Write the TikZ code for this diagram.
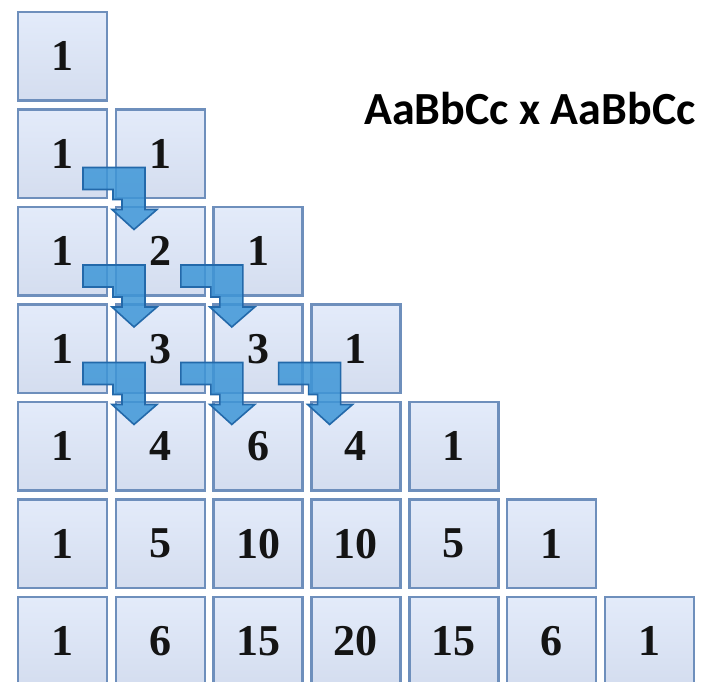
\documentclass[tikz,border=0pt]{standalone}
\usepackage{fontspec}
\usepackage{tikz}
\usetikzlibrary{positioning}
\newfontfamily\numfont{Liberation Serif}
\newfontfamily\headfont{Carlito}
\definecolor{cellfill}{RGB}{227,235,250}
\definecolor{cellfillb}{RGB}{212,221,239}
\definecolor{celledge}{RGB}{110,143,188}
\definecolor{turnfill}{RGB}{62,150,215}
\definecolor{turnedge}{RGB}{35,105,170}

\begin{document}
\begin{tikzpicture}[x=1pt, y=1pt,
  node distance=9pt and 8.8pt,
  cell/.style={draw=celledge, line width=2.6pt, top color=cellfill, bottom color=cellfillb, minimum width=89pt, minimum height=88.5pt,
    inner sep=0pt, outer sep=0pt, font=\numfont\bfseries\fontsize{44}{48}\selectfont, text=black!92},
  turn/.pic={\filldraw[fill=turnfill, fill opacity=0.85, draw=turnedge, line width=1.6pt]
    (-24,30.5) -- (38,30.5) -- (38,-11.5) -- (50,-11.5) -- (27,-31.5) -- (5,-11.5) -- (15,-11.5) -- (15,-1.5) -- (6,-1.5) -- (6,8.5) -- (-24,8.5) -- cycle;}]
  \fill[white] (0,0) rectangle (705,682);
  \useasboundingbox (0,0) rectangle (705,682);
  % Pascal triangle rows
  \node[cell] (p11) at (62.5,625.75) {1};
  \node[cell, below=of p11] (p21) {1}; \node[cell, right=of p21] (p22) {1};
  \node[cell, below=of p21] (p31) {1}; \node[cell, right=of p31] (p32) {2}; \node[cell, right=of p32] (p33) {1};
  \node[cell, below=of p31] (p41) {1}; \node[cell, right=of p41] (p42) {3}; \node[cell, right=of p42] (p43) {3};
  \node[cell, right=of p43] (p44) {1};
  \node[cell, below=of p41] (p51) {1}; \node[cell, right=of p51] (p52) {4}; \node[cell, right=of p52] (p53) {6};
  \node[cell, right=of p53] (p54) {4}; \node[cell, right=of p54] (p55) {1};
  \node[cell, below=of p51] (p61) {1}; \node[cell, right=of p61] (p62) {5}; \node[cell, right=of p62] (p63) {10};
  \node[cell, right=of p63] (p64) {10}; \node[cell, right=of p64] (p65) {5}; \node[cell, right=of p65] (p66) {1};
  \node[cell, below=of p61] (p71) {1}; \node[cell, right=of p71] (p72) {6}; \node[cell, right=of p72] (p73) {15};
  \node[cell, right=of p73] (p74) {20}; \node[cell, right=of p74] (p75) {15}; \node[cell, right=of p75] (p76) {6};
  \node[cell, right=of p76] (p77) {1};
  % cross label
  \node[font=\headfont\bfseries\fontsize{46}{50}\selectfont, anchor=base] (cross) at (530,557) {AaBbCc x AaBbCc};
  % sum arrows
  \pic at (p21.south east) {turn};
  \pic at (p31.south east) {turn}; \pic at (p32.south east) {turn};
  \pic at (p41.south east) {turn}; \pic at (p42.south east) {turn}; \pic at (p43.south east) {turn};
\end{tikzpicture}
\end{document}
